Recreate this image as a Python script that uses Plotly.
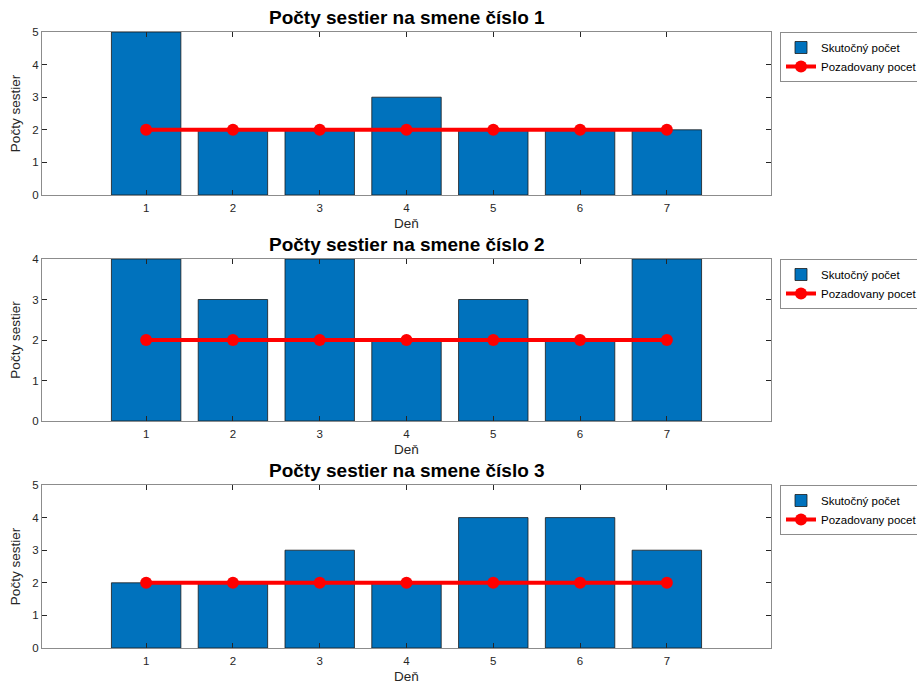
import plotly.graph_objects as go

days = [1, 2, 3, 4, 5, 6, 7]
actual_1 = [5, 2, 2, 3, 2, 2, 2]
actual_2 = [4, 3, 4, 2, 3, 2, 4]
actual_3 = [2, 2, 3, 2, 4, 4, 3]
required = [2, 2, 2, 2, 2, 2, 2]
titles = ["Počty sestier na smene číslo 1",
          "Počty sestier na smene číslo 2",
          "Počty sestier na smene číslo 3"]
ymax = [5, 4, 5]

W, H = 917, 684
xl, xr = 42, 771
rows_px = [(32, 195), (259, 421), (485, 648)]

fig = go.Figure()
font = "Liberation Sans, Arial, Helvetica, sans-serif"
series = [actual_1, actual_2, actual_3]
for i, (vals, (top, bot)) in enumerate(zip(series, rows_px)):
    n = i + 1
    xa = "x" if n == 1 else f"x{n}"
    ya = "y" if n == 1 else f"y{n}"
    lg = "legend" if n == 1 else f"legend{n}"
    fig.add_trace(go.Bar(x=days, y=vals, width=0.8, name="Skutočný počet",
                         marker=dict(color="#0072BD", line=dict(color="#1a1a1a", width=0.8)),
                         xaxis=xa, yaxis=ya, legend=lg))
    fig.add_trace(go.Scatter(x=days, y=required, mode="lines+markers", name="Pozadovany pocet",
                             line=dict(color="#FF0000", width=4),
                             marker=dict(color="#FF0000", size=12),
                             xaxis=xa, yaxis=ya, legend=lg))
    dom_y = [1 - bot / H, 1 - top / H]
    axcommon = dict(showline=True, linecolor="#8c8c8c", linewidth=1, mirror="ticks",
                    ticks="inside", ticklen=5, tickcolor="#262626", automargin=False,
                    tickfont=dict(size=11.5, color="#262626", family=font),
                    showgrid=False, zeroline=False)
    fig.layout[f"xaxis{'' if n == 1 else n}"] = dict(
        domain=[xl / W, xr / W], range=[-0.2, 8.2], tickvals=days, ticklabelstandoff=2,
        anchor=ya, title=dict(text="Deň", font=dict(size=13.5, color="#262626", family=font), standoff=5),
        **axcommon)
    fig.layout[f"yaxis{'' if n == 1 else n}"] = dict(
        domain=dom_y, range=[0, ymax[i]], dtick=1, anchor=xa,
        title=dict(text="Počty sestier", font=dict(size=13.5, color="#262626", family=font), standoff=8),
        **axcommon)
    fig.layout[lg] = dict(x=780 / W, y=1 - top / H, xanchor="left", yanchor="top",
                          bordercolor="#8c8c8c", borderwidth=1, bgcolor="white",
                          font=dict(size=11.5, color="#000000", family=font),
                          tracegroupgap=0, itemwidth=30)
    fig.add_annotation(text=f"<b>{titles[i]}</b>", xref="paper", yref="paper",
                       x=(xl + xr) / 2 / W, y=1 - (top - 2) / H, xanchor="center", yanchor="bottom",
                       showarrow=False, font=dict(size=19, color="#000000", family=font))

fig.update_layout(width=W, height=H, margin=dict(l=0, r=0, t=0, b=0, autoexpand=False),
                  plot_bgcolor="white", paper_bgcolor="white", showlegend=True,
                  bargap=0.2)
fig.write_html("out.html", config={"displayModeBar": False},
               post_script="document.body.style.margin='0';")
